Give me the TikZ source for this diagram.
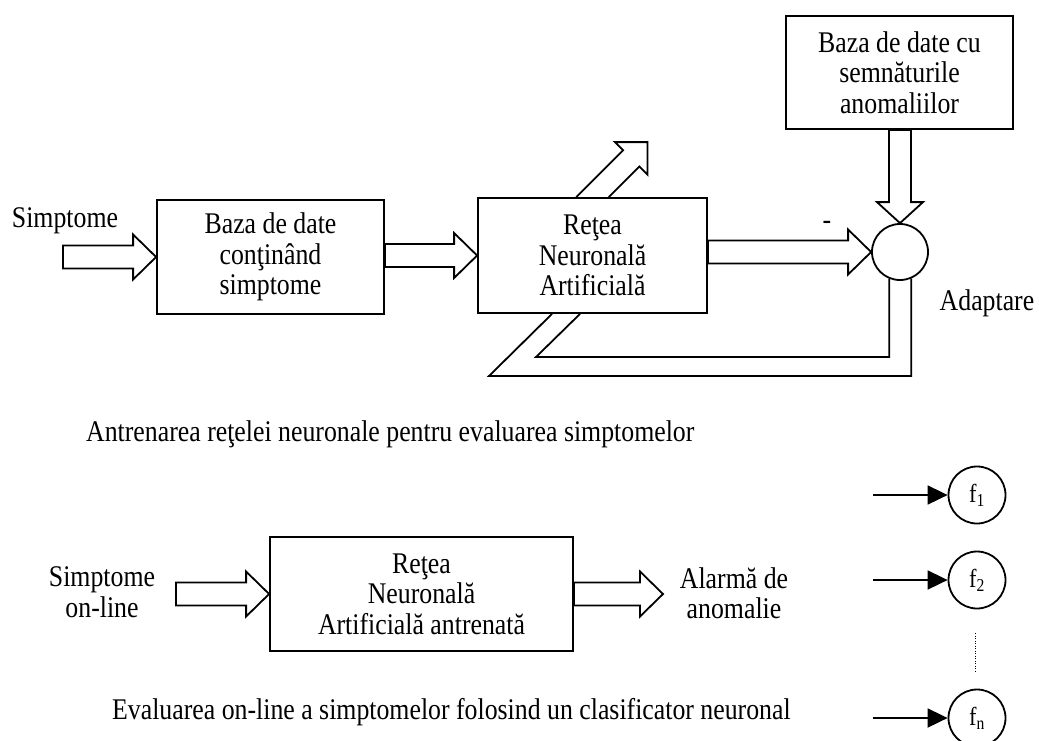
\documentclass[tikz,border=0pt]{standalone}
\usepackage{fontspec}
\setmainfont{Liberation Serif}[FakeStretch=0.86]
\usetikzlibrary{calc,arrows.meta}

% horizontal hollow arrow: shaft from #1 to the tip #2
\newcommand{\fatarrowH}[2]{%
  \draw[fat] let \p1=#1, \p2=#2 in
    (\x1,\y2+11.5pt) -- (\x2-23pt,\y2+11.5pt) -- (\x2-23pt,\y2+22.5pt) --
    (\x2,\y2) -- (\x2-23pt,\y2-22.5pt) -- (\x2-23pt,\y2-11.5pt) --
    (\x1,\y2-11.5pt) -- cycle;}

\begin{document}
\begin{tikzpicture}[x=1pt,y=-1pt,
  every node/.style={font=\fontsize{30}{30.5}\selectfont, inner sep=0pt},
  blockbox/.style={draw, line width=1.8pt, align=center},
  label/.style={align=center},
  fat/.style={draw, line width=1.8pt, line join=miter},
  thin/.style={draw, line width=1.8pt},
  fcirc/.style={draw, circle, line width=1.8pt, minimum size=57pt,
                font=\fontsize{26}{28}\selectfont},
  feed/.style={-{Triangle[length=20pt,width=19pt]}, line width=1.8pt}]
\useasboundingbox (0,0) rectangle (1039,740);

% ---------- training scheme ----------
\node[label, anchor=base] (simp) at (65,227) {Simptome};
\node[blockbox, minimum width=227pt, minimum height=114pt] (b1) at (270.5,257)
  {Baza de date\\conţinând\\simptome};
\node[blockbox, minimum width=229pt, minimum height=115pt] (b2) at (592.5,255.5)
  {Reţea\\Neuronală\\Artificială};
\node[blockbox, minimum width=227pt, minimum height=113pt] (b3) at (899.5,72.5)
  {Baza de date cu\\semnăturile\\anomaliilor};
\node[draw, circle, line width=1.8pt, minimum size=56pt] (sum) at (900,252) {};
\node[label, anchor=base] (minus) at (827,229) {-};
\node[label, anchor=base] (adapt) at (987,310) {Adaptare};

\coordinate (in0) at (63,257);
\fatarrowH{(in0)}{(b1.west)}
\fatarrowH{(b1.east)}{(b2.west)}
\fatarrowH{(b2.east)}{(sum.west)}

% database of fault signatures into the summing point
\draw[fat] let \p1=(b3.south), \p2=(sum.north) in
  (\x2-11pt,\y1) -- (\x2-11pt,\y2+21pt) -- (\x2-23pt,\y2+21pt) --
  (\x2,\y2) -- (\x2+23pt,\y2+21pt) -- (\x2+11pt,\y2+21pt) --
  (\x2+11pt,\y1) -- cycle;

% oblique output arrow of the network
\coordinate (outtip) at ($(b2.north)+(55,-55)$);
\draw[fat] ($(b2.north)+(-16.3,0)$) -- ($(b2.north)+(30.6,-46.8)$) --
  ($(b2.north)+(22.4,-55)$) -- (outtip) -- ($(b2.north)+(55,-22.4)$) --
  ($(b2.north)+(46.8,-30.6)$) -- ($(b2.north)+(16.3,0)$);

% adaptation loop back into the network
\coordinate (fbi) at (536,357);
\coordinate (fbo) at (489,376);
\draw[thin] (sum.-112.7) |- (fbi) -- ($(b2.south)+(-12.5,0)$);
\draw[thin] (sum.-67.3) |- (fbo) -- ($(b2.south)+(-40.5,0)$);

\node[label, anchor=base west] (cap1) at (86,441)
  {Antrenarea reţelei neuronale pentru evaluarea simptomelor};

% ---------- on-line evaluation ----------
\node[label] (simp2) at (102,592) {Simptome\\on-line};
\node[blockbox, minimum width=303pt, minimum height=114pt] (b4) at (421.5,594)
  {Reţea\\Neuronală\\Artificială antrenată};
\node[label] (alarm) at (734,593) {Alarmă de\\anomalie};
\coordinate (in1) at (176,594);
\coordinate (alarmtip) at (663,594);
\fatarrowH{(in1)}{(b4.west)}
\fatarrowH{(b4.east)}{(alarmtip)}

\node[label, anchor=base west] (cap2) at (112,719)
  {Evaluarea on-line a simptomelor folosind un clasificator neuronal};

% fault classes
\node[fcirc] (f1) at (977,495) {f\textsubscript{1}};
\node[fcirc] (f2) at (977,580) {f\textsubscript{2}};
\node[fcirc] (fn) at (977,718) {f\textsubscript{n}};
\coordinate (i1) at (873,495);
\coordinate (i2) at (873,580);
\coordinate (i3) at (873,718);
\draw[feed] (i1) -- (f1);
\draw[feed] (i2) -- (f2);
\draw[feed] (i3) -- (fn);
\coordinate (dotA) at (975,633);
\coordinate (dotB) at (975,673);
\draw[line width=1pt, dash pattern=on 1pt off 1.5pt] (dotA) -- (dotB);
\end{tikzpicture}
\end{document}
